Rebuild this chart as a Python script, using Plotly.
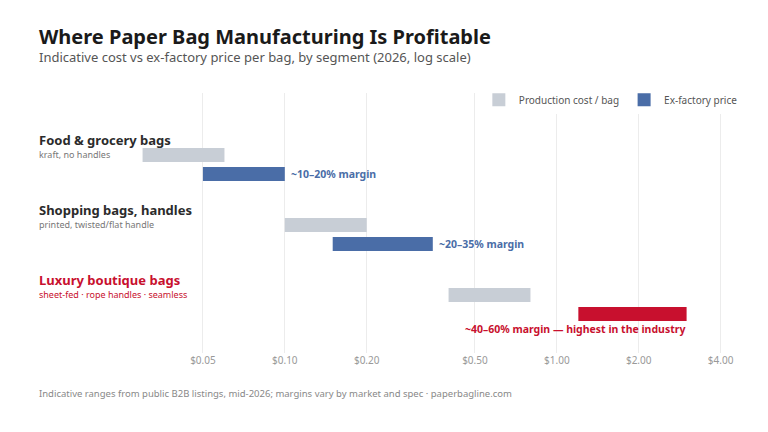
import math
import plotly.graph_objects as go

segments = ["Food & grocery bags", "Shopping bags, handles", "Luxury boutique bags"]
subtitles = ["kraft, no handles", "printed, twisted/flat handle", "sheet-fed · rope handles · seamless"]
cost_low = [0.030, 0.10, 0.40]
cost_high = [0.060, 0.20, 0.80]
price_low = [0.050, 0.15, 1.20]
price_high = [0.100, 0.35, 3.00]
margins = ["~10–20% margin", "~20–35% margin", "~40–60% margin — highest in the industry"]
tick_vals = [0.05, 0.10, 0.20, 0.50, 1.00, 2.00, 4.00]
tick_text = ["$0.05", "$0.10", "$0.20", "$0.50", "$1.00", "$2.00", "$4.00"]

GREY = "#c8ced6"
BLUE = "#4a6da7"
RED = "#c8102e"

fig = go.Figure()
for i, seg in enumerate(segments):
    pc = RED if i == 2 else BLUE
    fig.add_trace(go.Scatter(x=[cost_low[i], cost_high[i]], y=[i, i], mode="lines",
                             line=dict(color=GREY, width=14), showlegend=False, hoverinfo="skip"))
    fig.add_trace(go.Scatter(x=[price_low[i], price_high[i]], y=[i + 0.27, i + 0.27], mode="lines",
                             line=dict(color=pc, width=14), showlegend=False, hoverinfo="skip"))
    tc = RED if i == 2 else "#2b2b2b"
    fig.add_annotation(x=0, xref="paper", y=i - 0.21, yref="y", text=f"<b>{seg}</b>", showarrow=False,
                       xanchor="left", font=dict(size=13, color=tc))
    fig.add_annotation(x=0, xref="paper", y=i - 0.01, yref="y", text=subtitles[i], showarrow=False,
                       xanchor="left", font=dict(size=9, color=RED if i == 2 else "#777"))
    if i < 2:
        fig.add_annotation(x=math.log10(price_high[i]), y=i + 0.27, text=f"<b>{margins[i]}</b>",
                           showarrow=False, xanchor="left", xshift=4, font=dict(size=10.5, color=pc))
    else:
        fig.add_annotation(x=math.log10(price_high[i]), y=i + 0.49, text=f"<b>{margins[i]}</b>",
                           showarrow=False, xanchor="right", font=dict(size=10.5, color=pc))

fig.add_trace(go.Scatter(x=[None], y=[None], mode="markers", name="Production cost / bag",
                         marker=dict(symbol="square", size=13, color=GREY)))
fig.add_trace(go.Scatter(x=[None], y=[None], mode="markers", name="Ex-factory price",
                         marker=dict(symbol="square", size=13, color=BLUE)))

fig.update_layout(
    width=768, height=432, plot_bgcolor="white", paper_bgcolor="white",
    margin=dict(l=29, r=47, t=85, b=87),
    font=dict(family="Noto Sans, Open Sans, sans-serif", color="#333"),
    legend=dict(orientation="h", x=1.02, xanchor="right", y=1.03, yanchor="top",
                font=dict(size=10, color="#555"), itemwidth=30),
    xaxis=dict(type="log", range=[-1.911, 0.633], tickvals=tick_vals, ticktext=tick_text,
               showgrid=True, gridcolor="#ececec", zeroline=False, showline=False,
               tickfont=dict(size=10, color="#999"), ticks=""),
    yaxis=dict(range=[2.829, -0.886], visible=False, showgrid=False),
)
fig.add_annotation(x=0, xref="paper", y=1.219, yref="paper", xanchor="left", yanchor="middle",
                   showarrow=False, text="<b>Where Paper Bag Manufacturing Is Profitable</b>",
                   font=dict(size=20, color="#1a1a1a"))
fig.add_annotation(x=0, xref="paper", y=1.138, yref="paper", xanchor="left", yanchor="middle",
                   showarrow=False,
                   text="Indicative cost vs ex-factory price per bag, by segment (2026, log scale)",
                   font=dict(size=13, color="#555"))
fig.add_annotation(x=0, xref="paper", y=-0.19, yref="paper", xanchor="left", showarrow=False,
                   text="Indicative ranges from public B2B listings, mid-2026; margins vary by market and spec · paperbagline.com",
                   font=dict(size=9.5, color="#888"))
fig.write_html("out.html")
